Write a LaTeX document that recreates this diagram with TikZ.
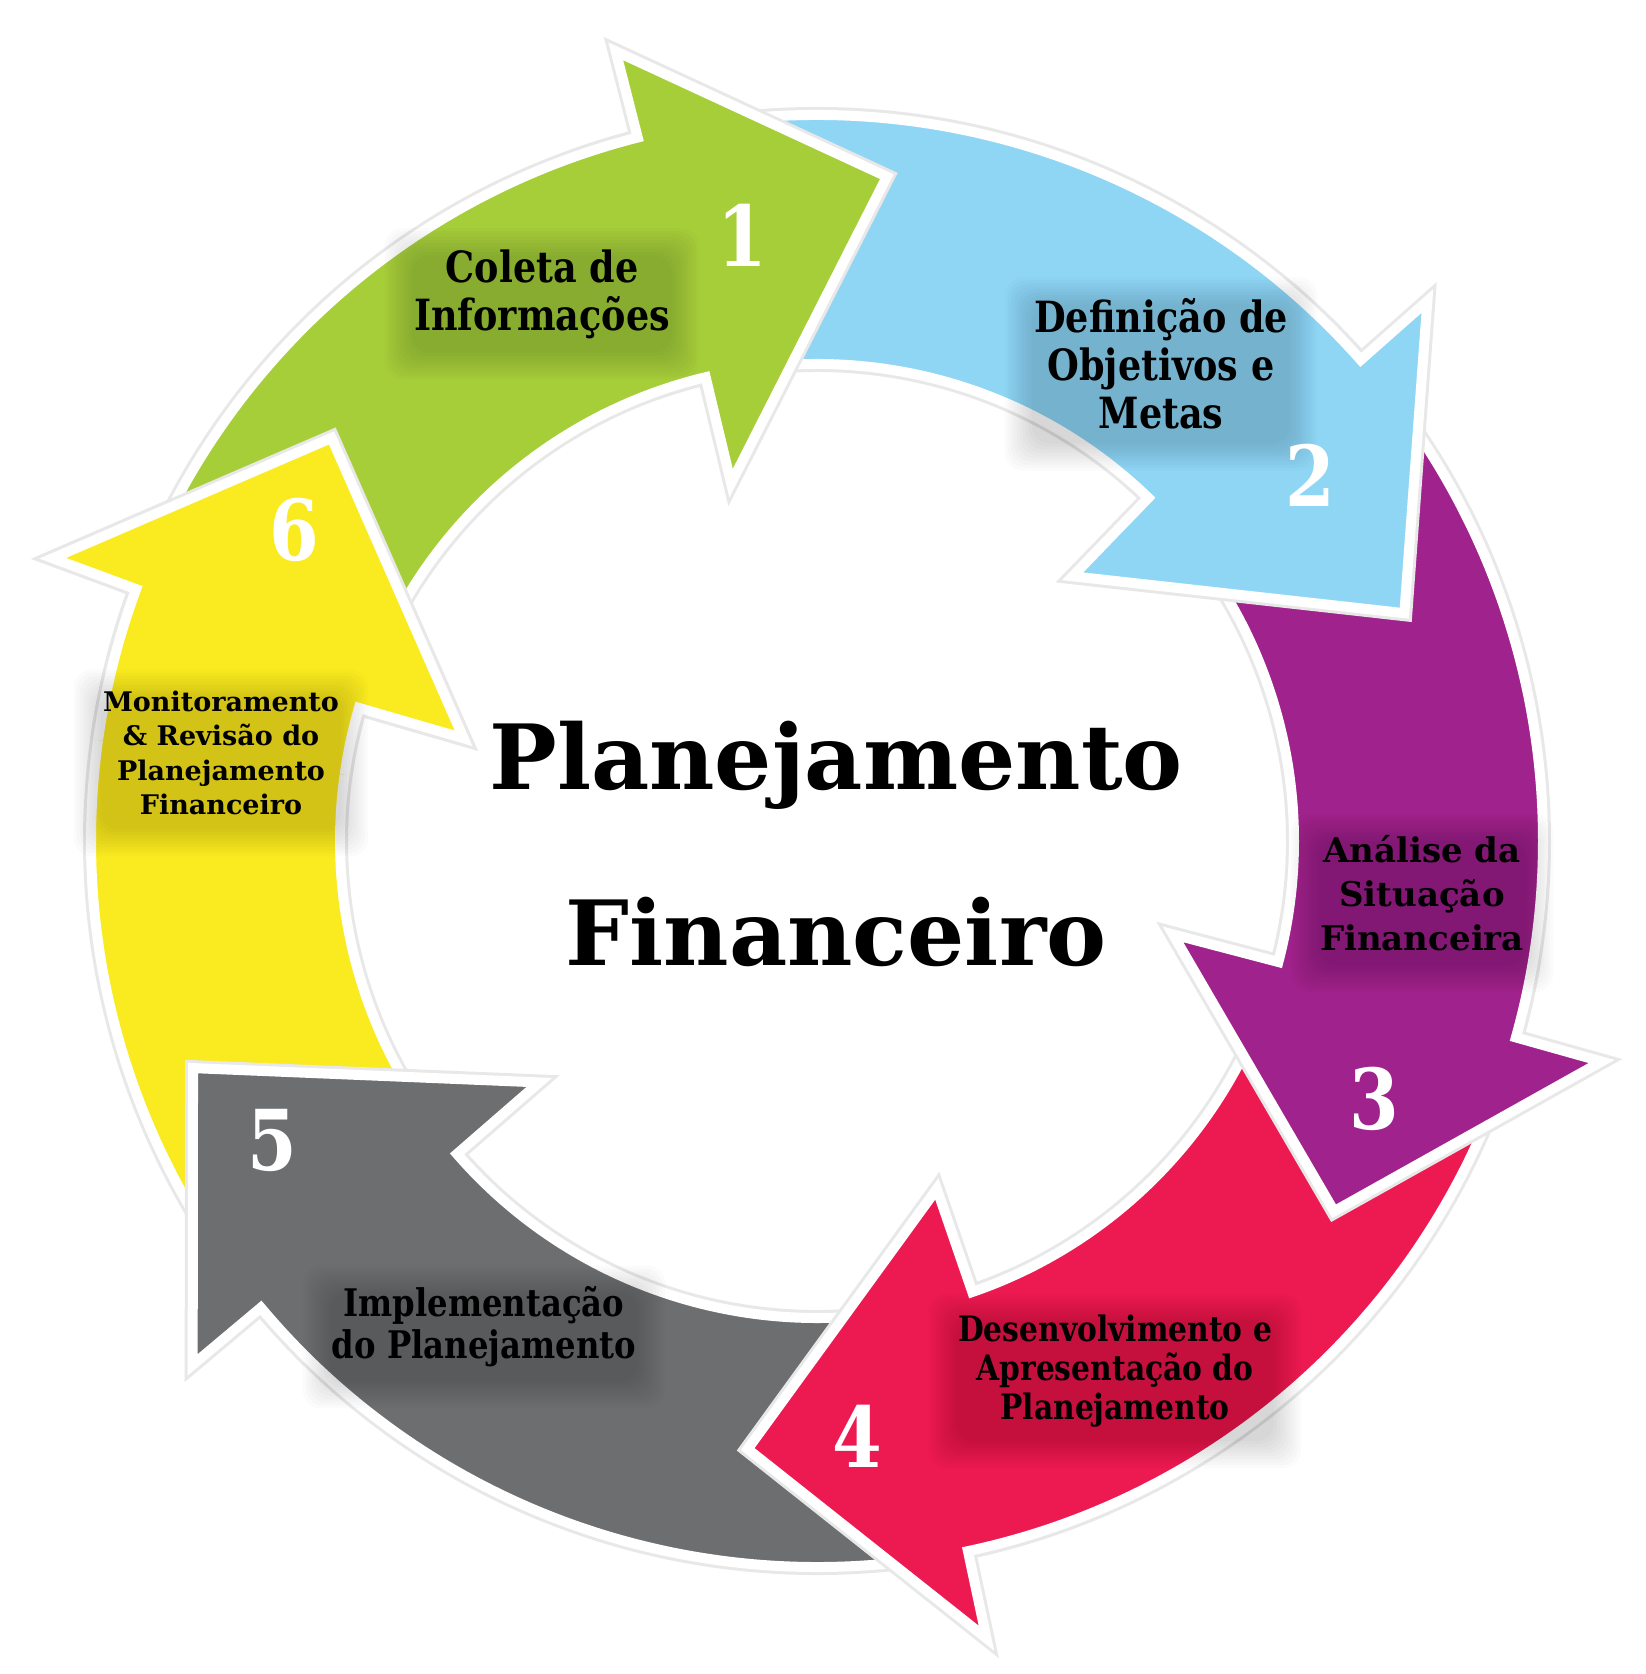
\documentclass[tikz,border=0pt]{standalone}
\usepackage{fontspec}
\setmainfont{DejaVu Serif}
\newfontfamily\wideF{DejaVu Serif}
\newfontfamily\condF[FakeStretch=0.85]{DejaVu Serif}
\pgfdeclarelayer{arrowlayer}
\pgfdeclarelayer{glowlayer}
\pgfsetlayers{arrowlayer,glowlayer,main}
\definecolor{cgreen}{RGB}{166,206,57}
\definecolor{cblue}{RGB}{143,214,245}
\definecolor{cpurple}{RGB}{160,34,140}
\definecolor{cred}{RGB}{237,26,82}
\definecolor{cgray}{RGB}{108,110,112}
\definecolor{cyellow}{RGB}{250,235,32}
\def\Rout{726pt}
\def\Rin{477pt}
\def\Rbo{815pt}
\def\Rbi{368pt}
% #1 style, #2 tail angle, #3 outer base angle, #4 inner base angle, #5 tip angle, #6 tip radius
\newcommand{\ringpath}[6]{\path[#1] (#2:\Rout) arc[start angle=#2,end angle=#3,radius=\Rout]
  -- (#3:\Rbo) -- (#5:#6) -- (#4:\Rbi) -- (#4:\Rin)
  arc[start angle=#4,end angle=#2,radius=\Rin] -- cycle;}
\newcommand{\ringarrow}[6]{\ringpath{arrowglow}{#2}{#3}{#4}{#5}{#6}\ringpath{arrowbody=#1}{#2}{#3}{#4}{#5}{#6}}
\newcommand{\glowbox}[1]{\foreach \e in {0,3,...,27}{\fill[black,opacity=0.014,rounded corners=18pt]
  ([shift={(-\e-2,-\e-14)}]#1.south west) rectangle ([shift={(\e+2,\e-6)}]#1.north east);}}
\tikzset{
  arrowglow/.style={draw=black!9,line width=16pt,line join=miter},
  arrowbody/.style={fill=#1,draw=white,line width=10pt,line join=miter},
  numstyle/.style={text=white,font=\condF\bfseries\fontsize{84}{84}\selectfont,inner sep=0pt},
  lab/.style={align=center,inner sep=0pt,text=black},
  condlab/.style 2 args={lab,font=\condF\bfseries\fontsize{#1}{#2}\selectfont},
  widelab/.style 2 args={lab,font=\wideF\bfseries\fontsize{#1}{#2}\selectfont},
  titlestyle/.style={inner sep=0pt,text=black,font=\wideF\bfseries\fontsize{90}{90}\selectfont}
}
\begin{document}
\begin{tikzpicture}[x=1pt,y=1pt]
\useasboundingbox (0,0) rectangle (1646,1674);
\begin{pgfonlayer}{arrowlayer}
\fill[white] (0,0) rectangle (1646,1674);
\begin{scope}[shift={(817,833)}]
  \ringarrow{cyellow}{-135}{-200.3}{-196.2}{-219.7}{631pt}
  \ringarrow{cgray}{-67}{-140}{-139}{-160}{664pt}
  \ringarrow{cred}{-10}{-78}{-71}{-96.5}{612pt}
  \ringarrow{cpurple}{49}{-15.7}{-14.7}{-35.6}{636pt}
  \ringarrow{cblue}{109}{41.5}{46}{21.2}{630pt}
  \ringarrow{cgreen}{167}{104.3}{103.5}{84}{668pt}
  \begin{scope}
    \clip (0,0) -- (-188:1300pt) arc[start angle=-188,end angle=-230,radius=1300pt] -- cycle;
    \ringarrow{cyellow}{-135}{-200.3}{-196.2}{-219.7}{631pt}
  \end{scope}
\end{scope}
\end{pgfonlayer}

% step numbers
\node[numstyle] (n1) at (742,1439) {1};
\node[numstyle] (n2) at (1310,1199) {2};
\node[numstyle] (n3) at (1374,575) {3};
\node[numstyle] (n4) at (857,238) {4};
\node[numstyle] (n5) at (272,534) {5};
\node[numstyle] (n6) at (294,1144) {6};

% labels
\node[condlab={43}{48}] (l1) at (542,1380) {Coleta de\\Informações};
\node[condlab={43}{48}] (l2) at (1161,1310) {Definição de\\Objetivos e\\Metas};
\node[widelab={34}{44}] (l3) at (1422,781) {Análise da\\Situação\\Financeira};
\node[condlab={35}{39}] (l4) at (1115,303) {Desenvolvimento e\\Apresentação do\\Planejamento};
\node[condlab={38}{42}] (l5) at (484,347) {Implementação\\do Planejamento};
\node[widelab={27}{34.5}] (l6) at (221,921) {Monitoramento\\\& Revisão do\\Planejamento\\Financeiro};

\begin{pgfonlayer}{glowlayer}
  \glowbox{l1}\glowbox{l2}\glowbox{l3}\glowbox{l4}\glowbox{l5}\glowbox{l6}
\end{pgfonlayer}

% title
\node[titlestyle,anchor=base] (t1) at (836,884) {Planejamento};
\node[titlestyle,anchor=base] (t2) at (836,708) {Financeiro};
\end{tikzpicture}
\end{document}
